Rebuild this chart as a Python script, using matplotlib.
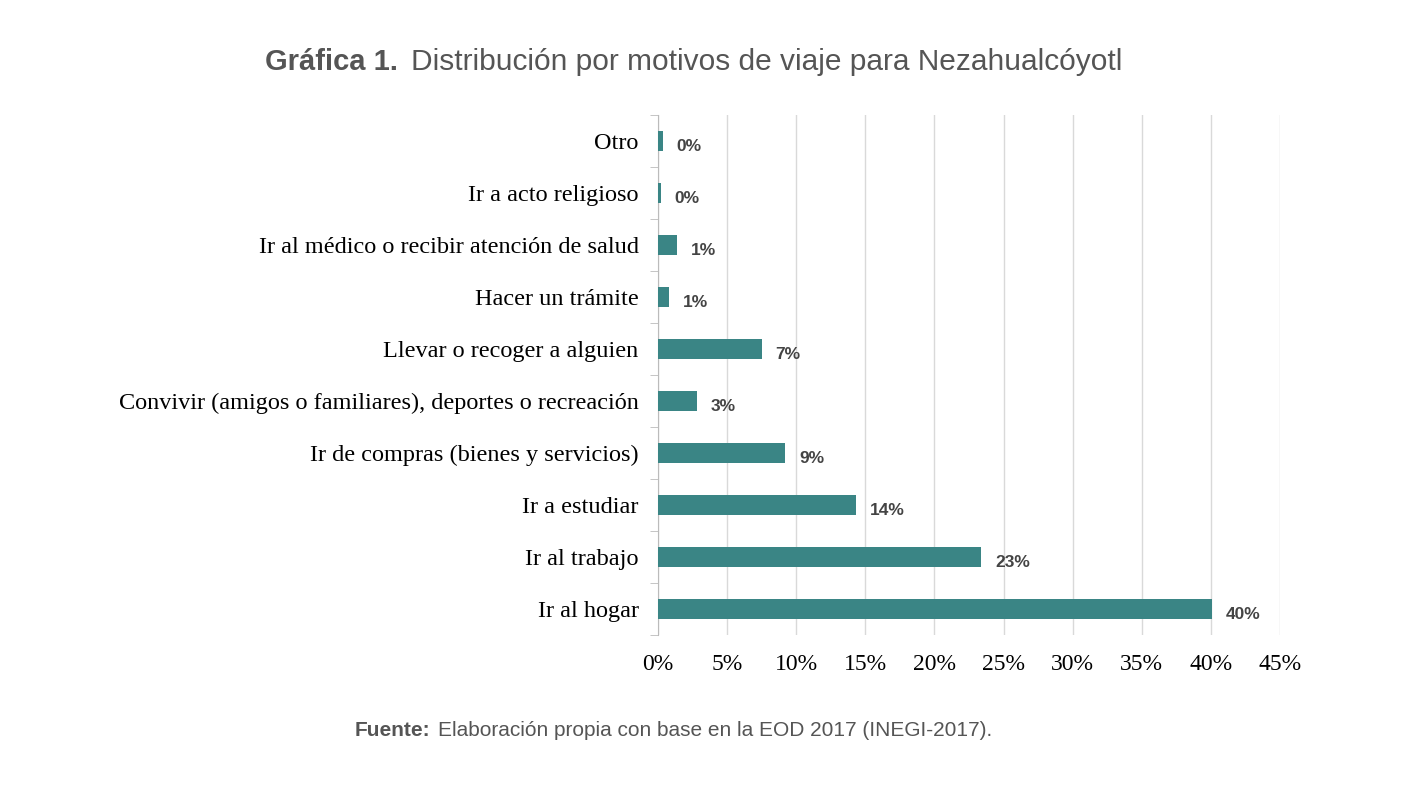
import matplotlib.pyplot as plt

categorias = ["Ir al hogar", "Ir al trabajo", "Ir a estudiar",
              "Ir de compras (bienes y servicios)",
              "Convivir (amigos o familiares), deportes o recreación",
              "Llevar o recoger a alguien", "Hacer un trámite",
              "Ir al médico o recibir atención de salud",
              "Ir a acto religioso", "Otro"]
valores = [40.1, 23.4, 14.3, 9.2, 2.8, 7.5, 0.8, 1.35, 0.2, 0.35]
etiquetas = ["40%", "23%", "14%", "9%", "3%", "7%", "1%", "1%", "0%", "0%"]

fig = plt.figure(figsize=(14.17, 7.87), dpi=100)
ax = fig.add_axes([658 / 1417, 1 - 635 / 787, (1280 - 658) / 1417, (635 - 115) / 787])

y = range(len(categorias))
ax.barh(y, valores, height=0.38, color="#3a8585", zorder=3)
for yi, v, t in zip(y, valores, etiquetas):
    ax.text(v + 1.0, yi - 0.1, t, va="center", ha="left", fontsize=12.5,
            fontweight="bold", color="#444444", family="Liberation Sans")

ax.set_xlim(0, 45)
ax.set_ylim(-0.5, len(categorias) - 0.5)
ax.set_xticks(range(0, 46, 5))
ax.set_xticklabels([f"{i}%" for i in range(0, 46, 5)], family="Liberation Serif", fontsize=17)
ax.set_yticks(list(y))
ax.set_yticklabels(categorias, family="Liberation Serif", fontsize=17.5)
ax.tick_params(axis="y", length=0, pad=14)
ax.tick_params(axis="x", length=0, pad=14)
ax.set_yticks([i - 0.5 for i in range(len(categorias) + 1)], minor=True)
ax.tick_params(axis="y", which="minor", length=6, color="#bbbbbb")
ax.grid(axis="x", color="#d9d9d9", lw=1, zorder=0)
for s in ["top", "right", "bottom"]:
    ax.spines[s].set_visible(False)
ax.spines["left"].set_color("#bbbbbb")

fig.text(265 / 1417, 1 - 62 / 787, "Gráfica 1.", ha="left", va="center",
         fontsize=21, fontweight="bold", color="#555555", family="Liberation Sans")
fig.text(411 / 1417, 1 - 62 / 787, "Distribución por motivos de viaje para Nezahualcóyotl",
         ha="left", va="center", fontsize=21.5, color="#555555", family="Liberation Sans")
fig.text(355 / 1417, 1 - 731 / 787, "Fuente:", ha="left", va="center",
         fontsize=15, fontweight="bold", color="#555555", family="Liberation Sans")
fig.text(438 / 1417, 1 - 731 / 787, "Elaboración propia con base en la EOD 2017 (INEGI-2017).",
         ha="left", va="center", fontsize=15, color="#555555", family="Liberation Sans")

fig.savefig("out.png", dpi=100)
